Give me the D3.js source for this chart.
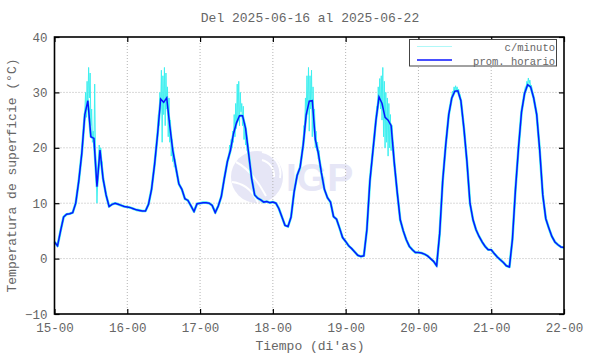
<!DOCTYPE html>
<html>
<head>
<meta charset="utf-8">
<script src="https://cdn.jsdelivr.net/npm/d3@7"></script>
<style>
  body { margin: 0; background: #fff; }
  text { font-family: "Courier New", "Liberation Mono", "Nimbus Mono PS", "FreeMono", "DejaVu Sans Mono", monospace; fill: #666; }
</style>
</head>
<body>
<div id="chart"></div>
<script>
// tick labels
const dayLabels = ["15-00", "16-00", "17-00", "18-00", "19-00", "20-00", "21-00", "22-00"];
const yTicks = [-10, 0, 10, 20, 30, 40];

// hourly averages (prom. horario), 24 values per day
const day15 = [3.0, 2.3, 5.0, 7.5, 8.0, 8.1, 8.3, 10.0, 14.0, 19.0, 26.0, 28.5, 22.0, 21.7, 13.0, 19.6, 14.5, 11.5, 9.4, 9.8, 10.0, 9.8, 9.6, 9.4];
const day16 = [9.3, 9.2, 9.0, 8.8, 8.7, 8.6, 8.6, 9.8, 12.5, 17.0, 22.5, 28.8, 28.2, 29.0, 24.0, 19.5, 16.5, 13.5, 12.5, 10.8, 10.5, 9.5, 8.5, 9.9];
const day17 = [10.0, 10.1, 10.1, 10.0, 9.6, 8.3, 9.5, 11.2, 14.5, 17.5, 19.5, 22.5, 24.5, 25.8, 25.8, 23.5, 19.0, 14.5, 11.5, 10.9, 10.6, 10.2, 10.3, 10.1];
const day18 = [10.2, 10.0, 9.0, 7.5, 6.0, 5.8, 7.5, 12.0, 15.0, 16.5, 20.5, 26.0, 28.4, 28.5, 21.5, 19.0, 15.5, 12.5, 11.0, 10.2, 7.6, 7.1, 5.5, 3.8];
const day19 = [3.1, 2.3, 1.8, 1.2, 0.6, 0.4, 0.5, 5.2, 14.0, 19.5, 25.0, 29.2, 28.0, 25.5, 25.0, 24.0, 17.5, 12.0, 7.0, 5.0, 3.4, 2.2, 1.6, 1.1];
const day20 = [1.1, 1.0, 0.8, 0.5, 0.0, -0.5, -1.3, 4.5, 14.0, 20.5, 26.0, 29.0, 30.2, 30.3, 28.5, 23.5, 17.5, 10.0, 7.0, 5.2, 4.0, 3.0, 2.2, 1.6];
const day21 = [1.6, 0.9, 0.3, -0.2, -0.7, -1.3, -1.5, 3.5, 12.5, 20.0, 26.5, 29.8, 31.4, 31.0, 29.0, 26.0, 19.5, 11.5, 7.2, 5.5, 4.0, 3.0, 2.5, 2.1];
const endValue = 2.0; // 22-00
const hourlyDays = [day15, day16, day17, day18, day19, day20, day21];

// per-minute readings (c/minuto) around midday, every 15 min
const minuteStep = 0.25;
const minute15 = [22, 24.5, 26.5, 30, 25.5, 32, 27, 34.5, 29, 33.5, 24, 27, 21, 23, 20, 31.5, 19, 16, 10, 14, 17, 20.5, 18, 20, 16.5, 17.5, 14];
const minute16 = [19, 21, 23, 26, 24, 30, 27, 34, 21, 33, 26, 34.5, 24, 33.5, 27, 31, 22, 29, 21, 25, 18.5, 21.5, 17.5, 20, 16.5, 18, 16];
const minute17 = [18, 20.5, 19, 21.5, 20, 23, 21, 26, 22, 28, 23.5, 31.5, 25, 32, 24, 30, 26.5, 28, 24, 27.5, 21.5, 24.5, 20.5, 22.5, 19.5, 20, 18.5];
const minute18 = [18, 20, 21, 24, 23, 29, 25, 33, 26, 34.5, 23, 33, 27, 34, 22, 31, 25, 27, 20, 23, 19.5, 21, 18, 19.5, 16.5, 17, 15];
const minute19 = [21, 23, 25, 27.5, 26, 31, 28, 32.5, 27, 33, 25, 34.5, 22, 32, 20, 30, 21, 29, 18.5, 28, 20, 26, 19.5, 24, 20, 21, 17];
const minute20 = [29.3, 30.2, 29.8, 31.0, 30.3, 31.2, 30.4, 31.0, 30.0, 30.6, 29.5, 29.6, 28.5];
const minute21 = [30.0, 31.0, 30.8, 32.0, 31.5, 32.6, 31.6, 32.2, 31.0, 31.3, 30.2, 29.8, 29.0];
const minuteWindows = [
  {day: 0, start: 9.5, values: minute15},
  {day: 1, start: 9.5, values: minute16},
  {day: 2, start: 9.5, values: minute17},
  {day: 3, start: 9.5, values: minute18},
  {day: 4, start: 9.5, values: minute19},
  {day: 5, start: 11, values: minute20},
  {day: 6, start: 11, values: minute21}
];

const W = 590, H = 354;
const margin = {top: 37, right: 26, bottom: 40, left: 54.5};

const svg = d3.select("#chart").append("svg")
  .attr("width", W).attr("height", H);

const x = d3.scaleLinear().domain([0, 168]).range([margin.left, W - margin.right]);
const y = d3.scaleLinear().domain([-10, 40]).range([H - margin.bottom, margin.top]);
const dayTicks = dayLabels.map((d, i) => i * 24);

// hourly series
const hourly = [];
hourlyDays.forEach((vals, d) => vals.forEach((v, h) => hourly.push({t: d * 24 + h, v: v})));
hourly.push({t: 168, v: endValue});

// minute series: hourly points outside the windows, dense readings inside
const windows = minuteWindows.map(w => {
  const t0 = w.day * 24 + w.start;
  return {t0: t0, t1: t0 + (w.values.length - 1) * minuteStep, pts: w.values.map((v, i) => ({t: t0 + i * minuteStep, v: v}))};
});
let minute = hourly.filter(p => !windows.some(w => p.t >= w.t0 && p.t <= w.t1));
windows.forEach(w => { minute = minute.concat(w.pts); });
minute.sort((a, b) => a.t - b.t);

// watermark
const wm = svg.append("g").attr("opacity", 0.85);
wm.append("circle").attr("cx", 257).attr("cy", 177).attr("r", 26).attr("fill", "#e2e2f5");
wm.append("path").attr("d", "M236,162 Q252,170 266,196").attr("stroke", "#fff").attr("stroke-width", 2).attr("fill", "none");
wm.append("path").attr("d", "M232,182 Q250,184 258,203").attr("stroke", "#fff").attr("stroke-width", 2).attr("fill", "none");
wm.append("path").attr("d", "M262,152 A22,22 0 0 1 280,178").attr("stroke", "#fff").attr("stroke-width", 2).attr("fill", "none");
wm.append("path").attr("d", "M262,160 A16,16 0 0 1 274,177").attr("stroke", "#fff").attr("stroke-width", 2).attr("fill", "none");
wm.append("text").attr("x", 286).attr("y", 191)
  .style("font-family", "'Liberation Sans', Arial, sans-serif")
  .style("font-weight", "bold").style("font-size", "39px").style("fill", "#e2e2f5")
  .text("IGP");

// grid
const grid = svg.append("g").attr("stroke", "#b4b4b4").attr("stroke-dasharray", "1,2").attr("stroke-width", 1);
grid.selectAll(".gx").data(dayTicks.slice(1, -1)).join("line")
  .attr("x1", d => x(d)).attr("x2", d => x(d))
  .attr("y1", y(40)).attr("y2", y(-10));
grid.selectAll(".gy").data(yTicks.slice(1, -1)).join("line")
  .attr("x1", x(0)).attr("x2", x(168))
  .attr("y1", d => y(d)).attr("y2", d => y(d));

// lines
const line = d3.line().x(d => x(d.t)).y(d => y(d.v));
svg.append("path").datum(hourly)
  .attr("fill", "none").attr("stroke", "#3ef0f0").attr("stroke-width", 2.6)
  .attr("stroke-linejoin", "round")
  .attr("d", line);
svg.append("path").datum(minute)
  .attr("fill", "none").attr("stroke", "#3ef0f0").attr("stroke-width", 1)
  .attr("d", line);
svg.append("path").datum(hourly)
  .attr("fill", "none").attr("stroke", "#0a14ff").attr("stroke-width", 1.5)
  .attr("d", line);

// axes
const mono = "'Courier New', 'Liberation Mono', 'Nimbus Mono PS', FreeMono, monospace";
svg.append("g").attr("transform", `translate(${x(0)},0)`)
  .call(d3.axisLeft(y).tickValues(yTicks).tickSize(-5).tickPadding(7).tickFormat(d3.format("d")))
  .call(g => g.select(".domain").remove())
  .call(g => g.selectAll("text").style("font-size", "12.5px").style("fill", "#666").style("font-family", mono));
svg.append("g").attr("transform", `translate(${x(168)},0)`)
  .call(d3.axisRight(y).tickValues(yTicks).tickSize(-5).tickFormat(""))
  .call(g => g.select(".domain").remove());
svg.append("g").attr("transform", `translate(0,${y(-10)})`)
  .call(d3.axisBottom(x).tickValues(dayTicks).tickSize(-5).tickPadding(9).tickFormat((d, i) => dayLabels[i]))
  .call(g => g.select(".domain").remove())
  .call(g => g.selectAll("text").style("font-size", "12.5px").style("fill", "#666").style("font-family", mono));
svg.append("g").attr("transform", `translate(0,${y(40)})`)
  .call(d3.axisTop(x).tickValues(dayTicks).tickSize(-5).tickFormat(""))
  .call(g => g.select(".domain").remove());
svg.selectAll(".tick line").attr("stroke", "#000").attr("stroke-width", 1.2);

// frame
svg.append("rect")
  .attr("x", x(0)).attr("y", y(40))
  .attr("width", x(168) - x(0)).attr("height", y(-10) - y(40))
  .attr("fill", "none").attr("stroke", "#000").attr("stroke-width", 1.6);

// legend
const lg = svg.append("g");
lg.append("rect").attr("x", 409.5).attr("y", 39.5).attr("width", 147).attr("height", 26.5)
  .attr("fill", "#fff").attr("stroke", "#444").attr("stroke-width", 1);
lg.append("line").attr("x1", 417).attr("x2", 452).attr("y1", 46.5).attr("y2", 46.5)
  .attr("stroke", "#b0f8f8").attr("stroke-width", 1.2);
lg.append("line").attr("x1", 417).attr("x2", 452).attr("y1", 60).attr("y2", 60)
  .attr("stroke", "#0a14ff").attr("stroke-width", 1.5);
lg.append("text").attr("x", 555).attr("y", 51).attr("text-anchor", "end")
  .style("font-size", "10.5px").text("c/minuto");
lg.append("text").attr("x", 555).attr("y", 64.5).attr("text-anchor", "end")
  .style("font-size", "10.5px").text("prom. horario");

// titles
svg.append("text").attr("x", 310).attr("y", 22).attr("text-anchor", "middle")
  .style("font-size", "13px").text("Del 2025-06-16 al 2025-06-22");
svg.append("text").attr("x", 310).attr("y", 350).attr("text-anchor", "middle")
  .style("font-size", "13px").text("Tiempo (di'as)");
svg.append("text").attr("transform", `translate(16,${(y(40) + y(-10)) / 2}) rotate(-90)`)
  .attr("text-anchor", "middle")
  .style("font-size", "13px").text("Temperatura de superficie (°C)");
</script>
</body>
</html>
